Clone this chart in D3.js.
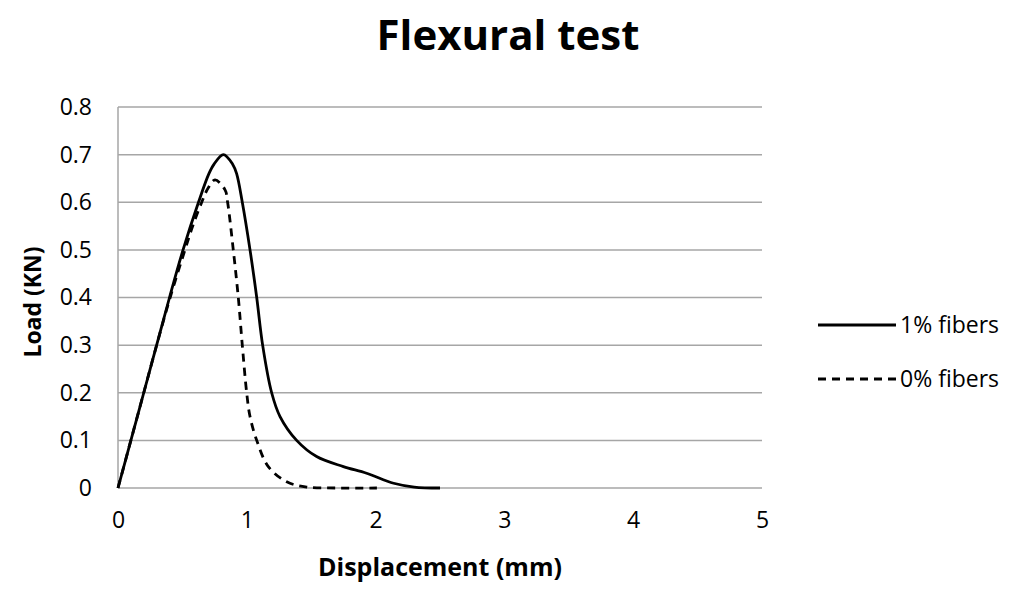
<!DOCTYPE html>
<html><head><meta charset="utf-8">
<script src="https://cdn.jsdelivr.net/npm/d3@7"></script>
<style>body{margin:0;background:#fff;} svg{display:block;}</style>
</head><body>
<svg id="chart" width="1024" height="596"></svg>
<script>
const xTicks = [0, 1, 2, 3, 4, 5];
const yTicks = [0, 0.1, 0.2, 0.3, 0.4, 0.5, 0.6, 0.7, 0.8];
const seriesNames = ["1% fibers", "0% fibers"];
const fiber1X = [0,0.1,0.2,0.3,0.4,0.505,0.625,0.706,0.746,0.818,0.89,0.921,0.965,1.025,1.077,1.123,1.193,1.258,1.387,1.542,1.75,1.93,2.14,2.3,2.5];
const fiber1Y = [0,0.1,0.2,0.3,0.4,0.5,0.6,0.66,0.68,0.70,0.68,0.66,0.6,0.5,0.4,0.3,0.2,0.15,0.1,0.066,0.045,0.031,0.01,0.002,0];
const fiber0X = [0,0.1,0.2,0.3,0.405,0.52,0.58,0.65,0.70,0.753,0.831,0.851,0.895,0.934,0.965,0.999,1.025,1.077,1.167,1.31,1.465,1.7,2.01];
const fiber0Y = [0,0.1,0.2,0.3,0.4,0.5,0.55,0.6,0.63,0.647,0.626,0.6,0.5,0.4,0.3,0.2,0.15,0.1,0.045,0.013,0.002,0,0];

const svg = d3.select("#chart");
const font = "'Open Sans', sans-serif";
const x = d3.scaleLinear().domain([0, 5]).range([118, 762]);
const y = d3.scaleLinear().domain([0, 0.8]).range([488, 107]);

svg.append("text").attr("x", 508).attr("y", 50).attr("text-anchor", "middle")
  .attr("font-family", font).attr("font-weight", "bold").attr("font-size", 42).text("Flexural test");

// gridlines
svg.append("g").selectAll("line").data(yTicks).join("line")
  .attr("x1", x(0)).attr("x2", x(5)).attr("y1", d => y(d)).attr("y2", d => y(d))
  .attr("stroke", "#a6a6a6").attr("stroke-width", 1.5);
svg.append("line").attr("x1", x(0)).attr("x2", x(0)).attr("y1", y(0)).attr("y2", y(0.8))
  .attr("stroke", "#a6a6a6").attr("stroke-width", 1.5);

// axes
const yAxis = d3.axisLeft(y).tickValues(yTicks).tickSize(0).tickPadding(0).tickFormat(d => d === 0 ? "0" : d3.format(".1f")(d));
const gy = svg.append("g").attr("transform", "translate(92,0)").call(yAxis);
gy.select(".domain").remove();
gy.selectAll("text").attr("font-family", font).attr("font-size", 23).attr("fill", "#000");

const xAxis = d3.axisBottom(x).tickValues(xTicks).tickSize(0).tickPadding(0).tickFormat(d3.format("d"));
const gx = svg.append("g").attr("transform", "translate(0,512)").call(xAxis);
gx.select(".domain").remove();
gx.selectAll("text").attr("font-family", font).attr("font-size", 23).attr("fill", "#000");

svg.append("text").attr("x", 440).attr("y", 576).attr("text-anchor", "middle")
  .attr("font-family", font).attr("font-weight", "bold").attr("font-size", 25).text("Displacement (mm)");
svg.append("text").attr("transform", "translate(41,302) rotate(-90)").attr("text-anchor", "middle")
  .attr("font-family", font).attr("font-weight", "bold").attr("font-size", 23).text("Load (KN)");

// lines
const line = d3.line().x(d => x(d[0])).y(d => y(d[1])).curve(d3.curveCatmullRom.alpha(0.5));
const s1 = fiber1X.map((v, i) => [v, fiber1Y[i]]);
const s0 = fiber0X.map((v, i) => [v, fiber0Y[i]]);
svg.append("path").attr("d", line(s1)).attr("fill", "none").attr("stroke", "#000").attr("stroke-width", 2.8);
svg.append("path").attr("d", line(s0)).attr("fill", "none").attr("stroke", "#000").attr("stroke-width", 2.8)
  .attr("stroke-dasharray", "8,6");

// legend
const leg = svg.append("g");
seriesNames.forEach((name, i) => {
  const ly = 325 + i * 54;
  leg.append("line").attr("x1", 818).attr("x2", 896).attr("y1", ly).attr("y2", ly)
    .attr("stroke", "#000").attr("stroke-width", 2.8).attr("stroke-dasharray", i === 1 ? "8,6" : null);
  leg.append("text").attr("x", 900).attr("y", ly).attr("dy", "0.35em")
    .attr("font-family", font).attr("font-size", 23).text(name);
});
</script>
</body></html>
